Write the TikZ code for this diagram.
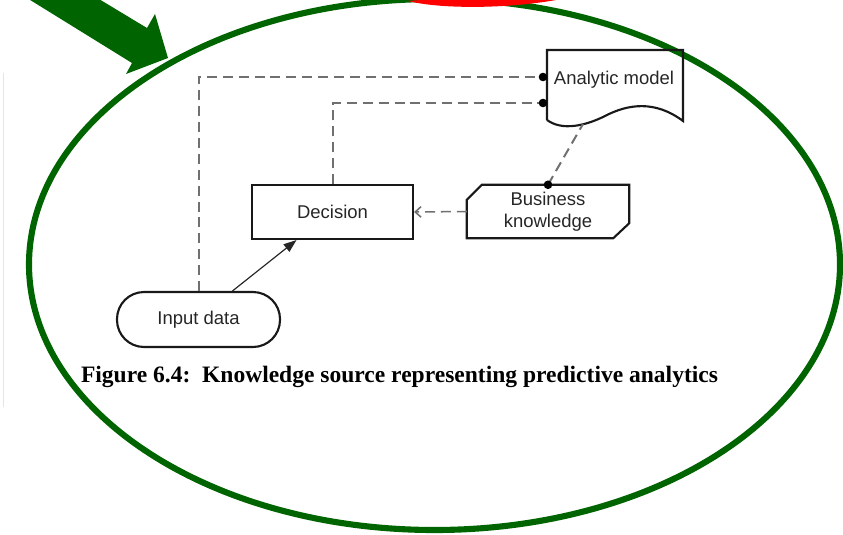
\documentclass[tikz,border=0pt]{standalone}
\usepackage{fontspec}
\setmainfont{Liberation Sans}
\newfontfamily\capfont{Liberation Serif}
\usetikzlibrary{arrows.meta,calc}

\definecolor{ringgreen}{HTML}{006400}
\definecolor{linkgray}{HTML}{707070}

\begin{document}
\begin{tikzpicture}[x=0.85pt,y=-0.85pt,
  shapeline/.style={draw=black!90,line width=1.8pt},
  lbl/.style={font=\fontsize{15.7pt}{18.7pt}\selectfont,text=black!85,align=center,inner sep=0pt},
  boxsize/.style 2 args={minimum width={#1*0.85pt},minimum height={#2*0.85pt}},
  dashlink/.style={draw=linkgray,line width=1.7pt,dash pattern=on 8.5pt off 5pt},
  portdot/.style={fill=black,draw=none},
  ring/.style={draw=ringgreen,line width=5.2pt}]

\useasboundingbox (0,0) rectangle (843,534);
\clip (0,0) rectangle (843,534);

% faint page edge on the left
\draw[black!10,line width=0.8pt] (3,73) -- (3,407);

% green ring around the figure
\draw[ring] (434.5,264.5) ellipse [x radius=405.5,y radius=265.5];

% red mark lying over the top of the ring
\fill[red] (408,1) .. controls (440,9) and (505,9) .. (556,0)
  .. controls (520,1) and (450,-3) .. cycle;

% big green pointer arrow
\fill[ringgreen] (14,-10) -- (132,63) -- (126,74) -- (168,58) -- (155,14) -- (147,28) -- (84,-10) -- cycle;

% ---- diagram nodes ----
\node[lbl,shapeline,boxsize={161}{54}] (dec) at (332.5,212) {Decision};
\node[lbl,shapeline,boxsize={163}{55},rounded corners=23pt] (inp) at (198.5,319.5) {Input data};

% knowledge source: rectangle with two cut corners
\node[lbl,boxsize={162}{53}] (bk) at (548,211.5) {Business\\knowledge};
\draw[shapeline] ($(bk.north west)+(15,0)$) -- (bk.north east)
  -- ($(bk.south east)+(0,-15)$) -- ($(bk.south east)+(-16,0)$)
  -- (bk.south west) -- ($(bk.north west)+(0,15)$) -- cycle;

% analytic model: document shape with wavy bottom
\node[lbl] (am) at (614,80) {Analytic model};
\draw[shapeline] (547,120) -- (547,50) -- (683,50) -- (683,121)
  .. controls (655,100) and (628,104) .. (605,116)
  .. controls (585,126) and (562,131) .. (547,120);

\coordinate (amin1) at (543,77);
\coordinate (amin2) at (543,103);
\coordinate (amout) at (583,124);

% ---- connectors ----
\draw[dashlink] (inp.north) |- (amin1);
\draw[dashlink] (dec.north) |- (amin2);
\draw[dashlink] (bk.north) -- (amout);
\draw[dashlink,line width=1.3pt,-{Straight Barb[length=5pt,width=9pt]}] (bk.west) -- (dec.east);
\draw[black!85,line width=1pt,-{Triangle[length=11pt,width=8pt]}]
  ($(inp.north)+(34,0)$) -- ($(dec.south)+(-36,0)$);

\fill[portdot] (amin1) circle [radius=4.3];
\fill[portdot] (amin2) circle [radius=4.3];
\fill[portdot] (bk.north) circle [radius=4.3];

% caption
\node[font=\capfont\bfseries\fontsize{20pt}{24pt}\selectfont,inner sep=0pt] (cap) at (399.5,377)
  {Figure 6.4:~~Knowledge source representing predictive analytics};
\end{tikzpicture}
\end{document}
